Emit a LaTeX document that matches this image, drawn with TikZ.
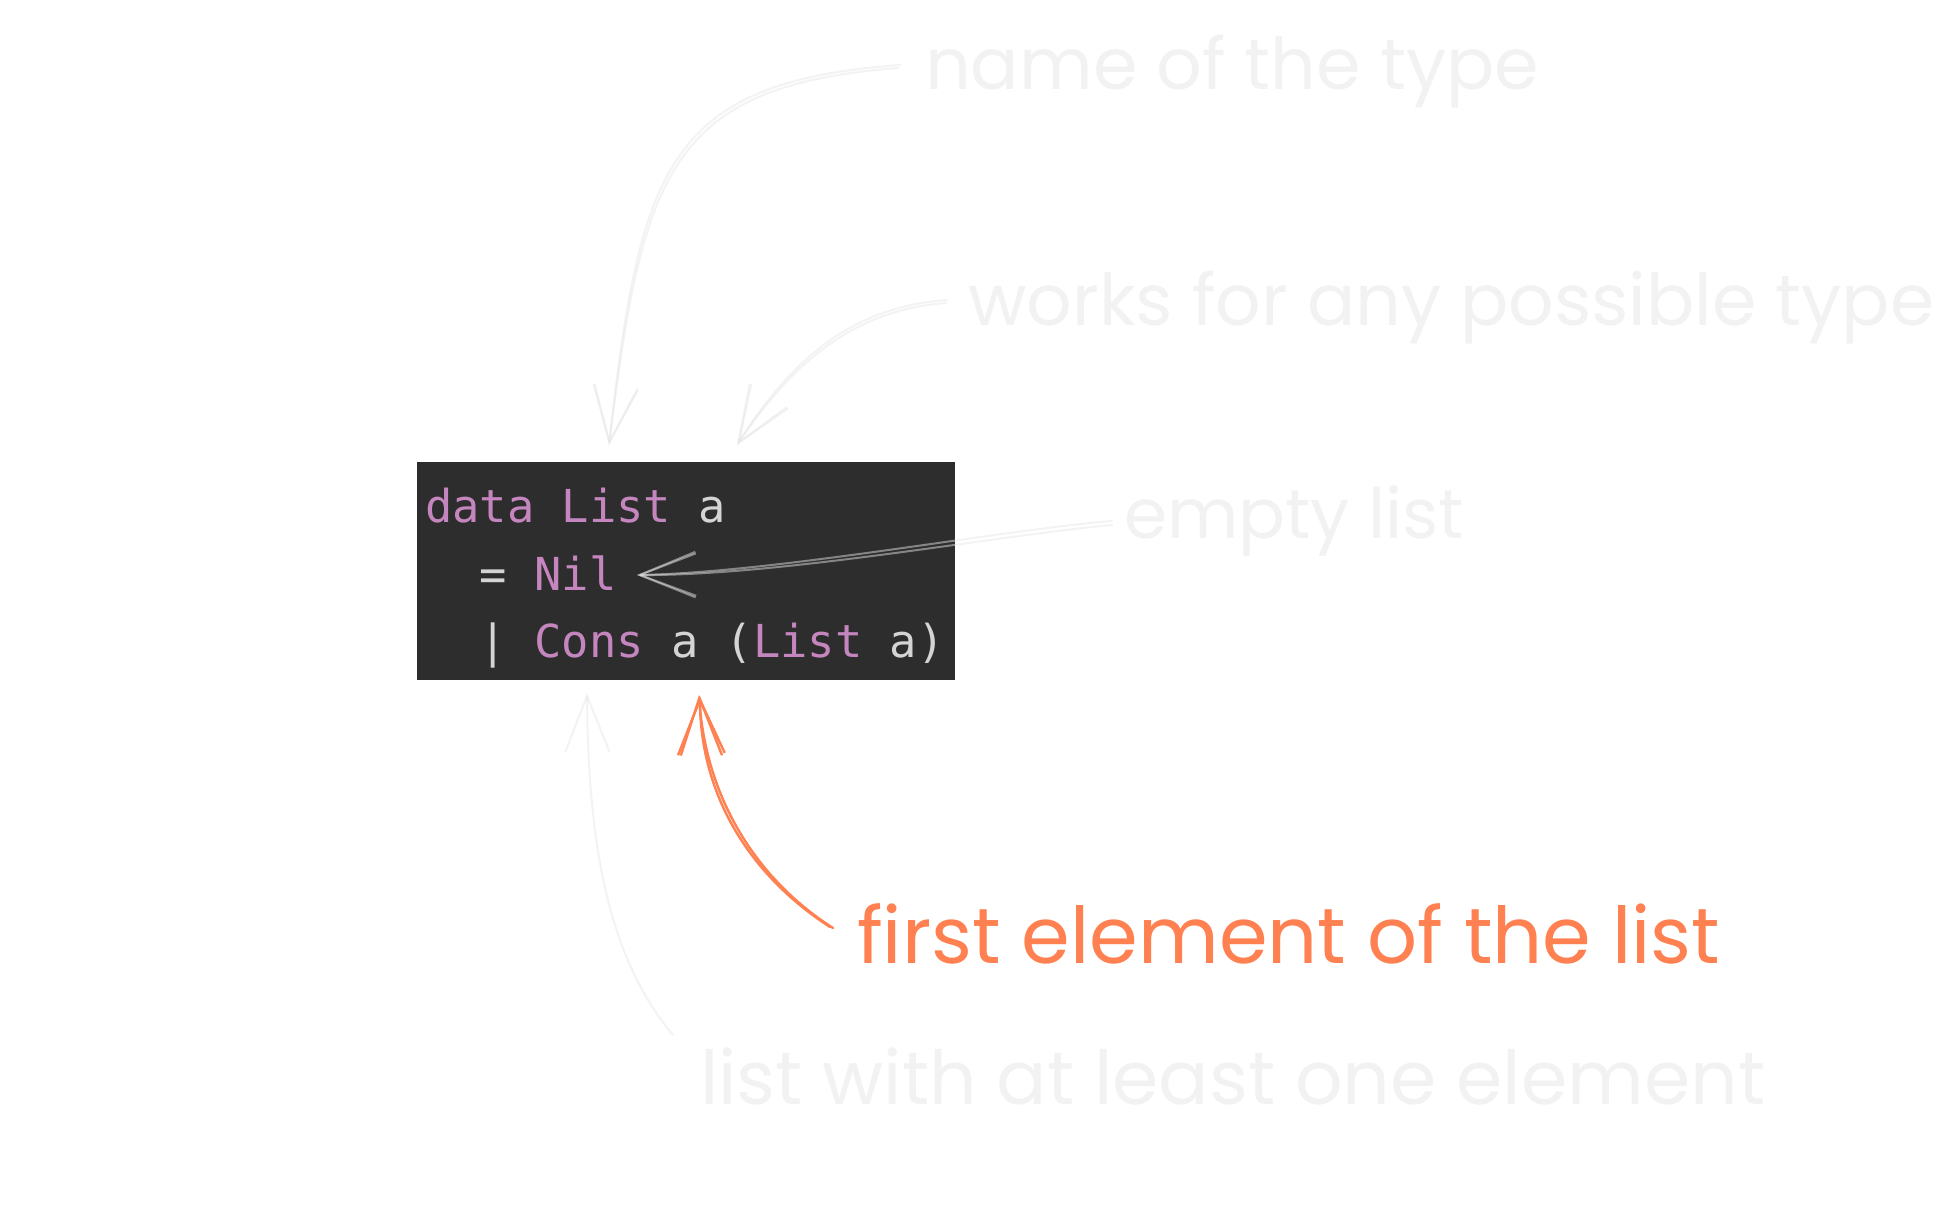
\documentclass[tikz,border=0pt]{standalone}
\usepackage{fontspec}
\usetikzlibrary{arrows.meta}
\newfontfamily\handfont{Poppins}
\newfontfamily\codefont{DejaVu Sans Mono}
\definecolor{codebg}{HTML}{2D2D2D}
\definecolor{kw}{HTML}{C586C0}
\definecolor{pl}{HTML}{D4D4D4}
\definecolor{faint}{HTML}{E6E6E6}
\definecolor{accent}{HTML}{FF8050}
\begin{document}
\begin{tikzpicture}[x=1pt,y=-1pt,
  hand/.style={font=\handfont\fontsize{60}{72}\selectfont, anchor=base west, inner sep=0pt},
  faintlbl/.style={hand, text=faint, text opacity=0.5},
  accentlbl/.style={hand, text=accent},
  codeline/.style={font=\codefont\fontsize{45.4}{54}\selectfont, anchor=base west, inner sep=0pt, text=pl},
  sketch/.style={line width=2pt, line cap=round, line join=round, -{Straight Barb[length=56pt,width=44pt]}},
  faintarrow/.style={sketch, draw=faint, draw opacity=0.48},
  accentarrow/.style={sketch, draw=accent, line width=2.4pt},
]
\useasboundingbox (0,0) rectangle (1959,1205);
\fill[white] (0,0) rectangle (1959,1205);

% code block
\node[fill=codebg, minimum width=538pt, minimum height=218pt, inner sep=0pt] (code) at (686,571) {};
\node[codeline] (c1) at (425,522) {\textcolor{kw}{data List} a};
\node[codeline] (c2) at (425,590) {\ \ = \textcolor{kw}{Nil}};
\node[codeline] (c3) at (425,657) {\ \ | \textcolor{kw}{Cons} a (\textcolor{kw}{List} a)};

% labels
\node[faintlbl] (lname) at (925,89) {\resizebox{614pt}{!}{name of the type}};
\node[faintlbl] (lany) at (968,325) {\resizebox{966pt}{!}{works for any possible type}};
\node[faintlbl] (lempty) at (1124,538) {\resizebox{340pt}{!}{empty list}};
\node[accentlbl] (lfirst) at (857,963) {\resizebox{863pt}{!}{first element of the list}};
\node[faintlbl] (lrest) at (700,1104) {\resizebox{1065pt}{!}{list with at least one element}};

% arrow end points
\coordinate (s1) at (900,65);   \coordinate (t1) at (609,445);
\coordinate (s2) at (947,300);  \coordinate (t2) at (737,445);
\coordinate (s3) at (1112,521); \coordinate (t3) at (637,575);
\coordinate (s4) at (833,928);  \coordinate (t4) at (699,695);
\coordinate (s5) at (673,1035); \coordinate (t5) at (587,693);

% arrows (double sketch strokes)
\draw[faintarrow] (s1) .. controls (665,82) and (640,170) .. (t1);
\draw[faintarrow] ([shift={(-2,3)}]s1) .. controls (668,86) and (643,173) .. (t1);

\draw[faintarrow] (s2) .. controls (865,306) and (800,345) .. (t2);
\draw[faintarrow] ([shift={(-1,3)}]s2) .. controls (867,309) and (802,348) .. (t2);

\draw[faintarrow] (s3) .. controls (1000,530) and (780,572) .. (t3);
\draw[faintarrow] ([shift={(0,4)}]s3) .. controls (1000,535) and (780,576) .. (t3);

\draw[accentarrow] (s4) .. controls (750,875) and (705,790) .. (t4);
\draw[accentarrow] ([shift={(-3,-1)}]s4) .. controls (745,872) and (700,790) .. ([shift={(1,1)}]t4);

\draw[faintarrow] (s5) .. controls (610,960) and (588,850) .. (t5);
\end{tikzpicture}
\end{document}
